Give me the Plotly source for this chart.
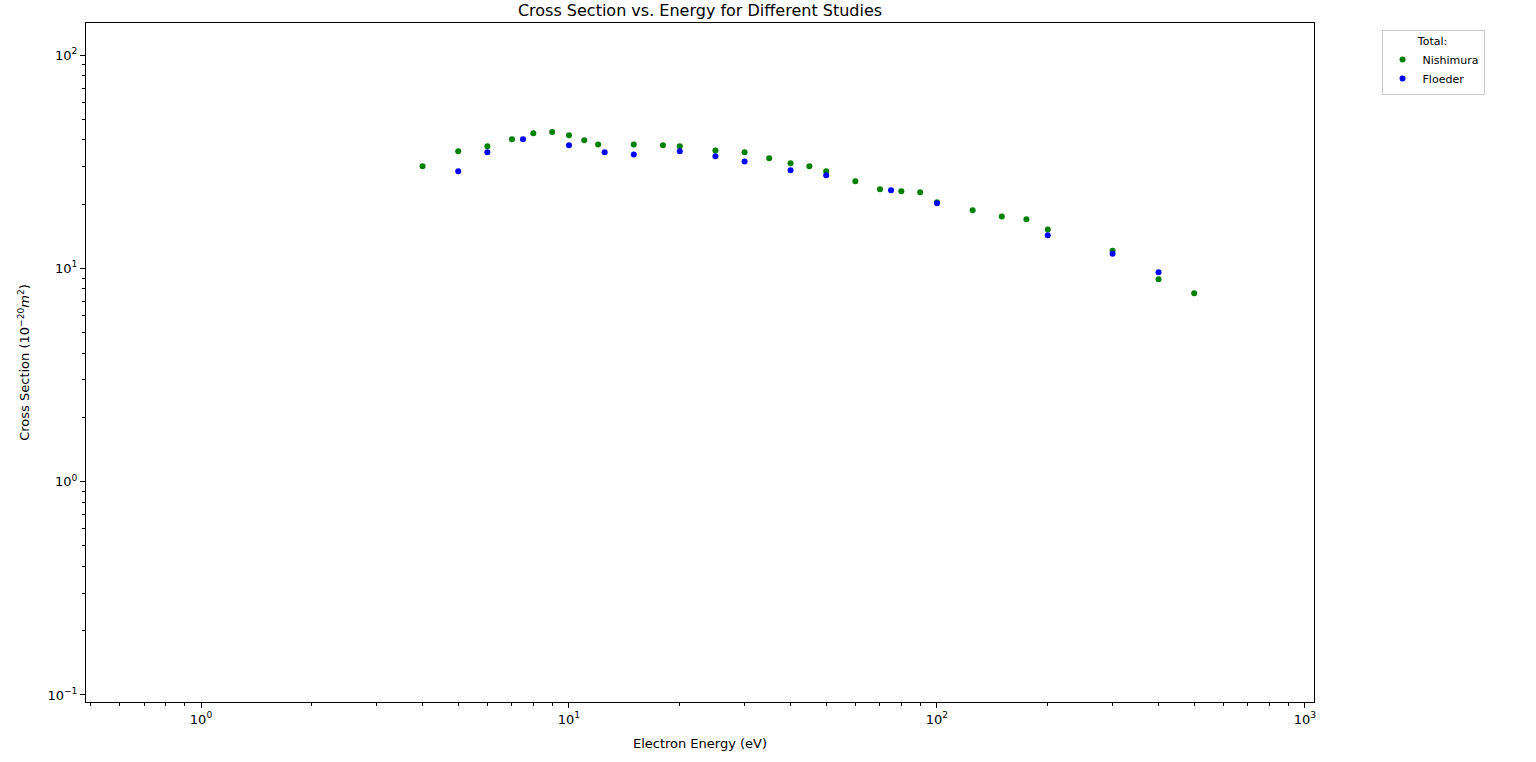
import plotly.graph_objects as go

# Nishimura total cross sections
nishimura_energy = [4, 5, 6, 7, 8, 9, 10, 11, 12, 15, 18, 20, 25, 30, 35, 40, 45, 50,
                    60, 70, 80, 90, 100, 125, 150, 175, 200, 300, 400, 500]
nishimura_xsec = [30.1, 35.4, 37.3, 40.3, 43.0, 43.5, 42.0, 39.8, 38.1, 38.1, 37.7, 37.3,
                  35.7, 35.0, 32.8, 31.1, 30.1, 28.5, 25.6, 23.5, 23.0, 22.7, 20.4, 18.7,
                  17.5, 17.0, 15.2, 12.1, 8.88, 7.64]

# Floeder total cross sections
floeder_energy = [5, 6, 7.5, 10, 12.5, 15, 20, 25, 30, 40, 50, 75, 100, 200, 300, 400]
floeder_xsec = [28.5, 35.0, 40.3, 37.7, 35.0, 34.2, 35.4, 33.5, 31.7, 28.8, 27.3, 23.2,
                20.2, 14.3, 11.7, 9.58]

decades = [0.1, 1, 10, 100, 1000]
decade_labels = ["10<sup>−1</sup>", "10<sup>0</sup>", "10<sup>1</sup>", "10<sup>2</sup>", "10<sup>3</sup>"]
minor_vals = [m * d for d in [0.01, 0.1, 1, 10, 100, 1000] for m in range(2, 10)]

fig = go.Figure()
fig.add_trace(go.Scatter(x=nishimura_energy, y=nishimura_xsec, mode="markers",
                         name="Nishimura", marker=dict(color="green", size=6)))
fig.add_trace(go.Scatter(x=floeder_energy, y=floeder_xsec, mode="markers",
                         name="Floeder", marker=dict(color="blue", size=6)))

axis_common = dict(
    type="log", showgrid=False, zeroline=False, showline=True, linecolor="black",
    linewidth=1, mirror=True, ticks="outside", ticklen=5, tickcolor="black",
    tickmode="array", tickvals=decades, ticktext=decade_labels,
    tickfont=dict(size=13, color="black"),
    minor=dict(ticks="outside", ticklen=3, tickcolor="black", tickmode="array",
               tickvals=minor_vals, showgrid=False),
)

fig.update_layout(
    width=1536, height=762,
    margin=dict(l=86, r=222, t=23, b=60),
    paper_bgcolor="white", plot_bgcolor="white",
    font=dict(family="DejaVu Sans", color="black"),
    title=dict(text="Cross Section vs. Energy for Different Studies", x=0.5, xref="paper",
               xanchor="center", y=0.994, yanchor="top", pad=dict(t=0),
               font=dict(size=16)),
    xaxis=dict(axis_common, range=[-0.3125, 3.0245],
               title=dict(text="Electron Energy (eV)", font=dict(size=13), standoff=13)),
    yaxis=dict(axis_common, range=[-1.033, 2.15],
               title=dict(text="Cross Section (10<sup>−20</sup><i>m</i><sup>2</sup>)",
                          font=dict(size=13), standoff=14)),
    legend=dict(x=1.055, y=0.99, xanchor="left", yanchor="top",
                bordercolor="#cccccc", borderwidth=1, bgcolor="white",
                font=dict(size=11), tracegroupgap=0,
                title=dict(text="Total:", side="top center", font=dict(size=11))),
)

# drop the browser's default body margin so the figure starts at the window corner
fig.write_html("out.html", config={"displayModeBar": False},
               post_script="document.body.style.margin='0px';")
